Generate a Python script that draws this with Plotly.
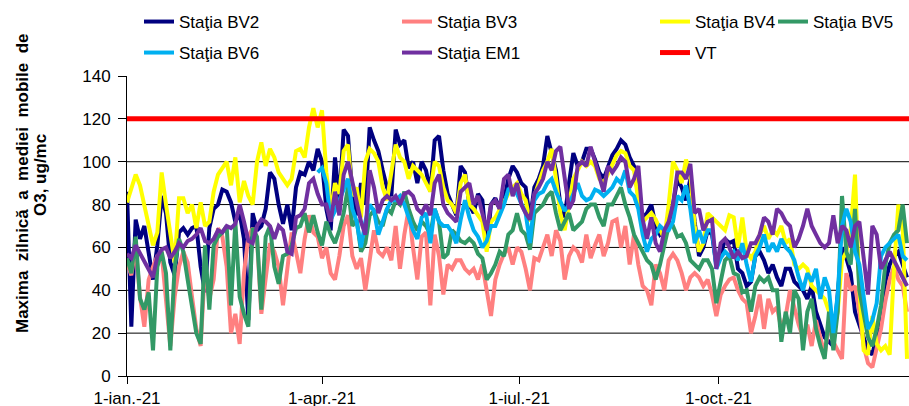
import pandas as pd
import plotly.graph_objects as go

# ---------------- data ----------------
START = "2021-01-01"          # first sample of the station series
STEP = "2D"                   # one sample every two days
BV6_START = "2021-03-30"      # station BV6 starts later

BV2 = [86, 23, 73, 64, 70, 56, 45, 61, 84, 76, 53, 47, 67, 69, 66, 69, 70, 51, 39, 69, 78, 80, 87, 86, 81, 72, 76, 64, 26, 76, 68, 70, 78, 95, 92, 80, 71, 80, 68, 88, 95, 94, 100, 96, 106, 100,
       78, 68, 102, 82, 115, 112, 85, 75, 90, 80, 116, 110, 105, 96, 88, 84, 115, 108, 110, 97, 100, 90, 100, 96, 86, 110, 112, 96, 85, 80, 75, 98, 95, 80, 76, 85, 82, 60, 80, 83, 78, 82, 92, 98, 95,
       90, 88, 73, 88, 92, 98, 112, 104, 96, 80, 74, 90, 104, 98, 100, 106, 106, 101, 95, 92, 97, 103, 106, 110, 108, 102, 98, 84, 74, 76, 80, 70, 66, 68, 72, 80, 92, 88, 82, 92, 72, 56, 60, 68,
       66, 52, 56, 64, 62, 63, 50, 48, 42, 44, 56, 58, 54, 48, 52, 46, 42, 50, 50, 44, 42, 40, 36, 42, 30, 24, 18, 16, 14, 38, 60, 55, 48, 30, 24, 18, 12, 10, 20, 28, 44, 52, 56, 58, 52, 46]

BV3 = [53, 47, 60, 37, 23, 45, 51, 56, 57, 33, 14, 37, 51, 58, 53, 37, 22, 14, 51, 36, 45, 69, 65, 51, 20, 29, 15, 48, 65, 69, 64, 29, 47, 62, 58, 51, 33, 51, 67, 58, 48, 64, 75, 67, 65, 55,
       60, 48, 45, 56, 70, 75, 56, 50, 55, 40, 55, 68, 58, 56, 60, 54, 70, 50, 66, 78, 60, 45, 65, 67, 33, 66, 56, 38, 52, 50, 54, 54, 50, 48, 50, 45, 52, 40, 28, 45, 52, 57, 60, 52, 60,
       58, 50, 40, 55, 54, 60, 66, 56, 68, 63, 45, 56, 60, 58, 53, 66, 55, 61, 66, 56, 62, 72, 73, 60, 70, 52, 66, 52, 42, 40, 33, 52, 48, 40, 54, 57, 54, 48, 40, 46, 48, 46, 42, 45,
       38, 28, 38, 42, 45, 46, 40, 36, 34, 20, 28, 38, 22, 36, 30, 32, 22, 28, 40, 32, 24, 18, 24, 14, 26, 18, 10, 24, 16, 12, 8, 48, 40, 42, 30, 14, 6, 4, 14, 22, 35, 45, 51, 45, 42, 30]

BV4 = [81, 87, 94, 89, 80, 70, 61, 67, 95, 80, 65, 53, 83, 83, 76, 80, 69, 81, 70, 72, 86, 94, 97, 100, 89, 102, 81, 91, 84, 80, 100, 109, 98, 106, 102, 95, 92, 89, 92, 105, 106, 102, 116, 125, 116, 124,
       95, 77, 90, 85, 105, 108, 84, 88, 74, 100, 106, 104, 100, 88, 82, 95, 108, 102, 100, 92, 98, 96, 94, 90, 86, 100, 98, 88, 82, 80, 76, 90, 94, 80, 78, 75, 72, 58, 72, 74, 78, 82, 85, 88, 90,
       85, 82, 72, 84, 90, 96, 100, 106, 92, 76, 68, 80, 92, 96, 100, 98, 100, 98, 92, 90, 94, 98, 103, 105, 104, 98, 96, 82, 72, 74, 76, 73, 68, 64, 80, 100, 96, 90, 101, 94, 70, 58, 62, 76,
       74, 72, 70, 68, 75, 74, 60, 74, 58, 55, 58, 66, 70, 64, 68, 66, 70, 62, 64, 52, 50, 52, 50, 42, 40, 38, 36, 30, 20, 30, 54, 58, 68, 94, 40, 12, 10, 28, 15, 12, 14, 10, 50, 80, 70, 8]

BV5 = [55, 48, 65, 36, 31, 39, 12, 51, 58, 48, 12, 51, 64, 58, 45, 31, 20, 15, 61, 31, 61, 65, 67, 70, 33, 72, 37, 29, 23, 69, 65, 31, 65, 70, 51, 43, 56, 57, 61, 69, 70, 76, 67, 75, 67, 61,
       72, 66, 62, 68, 76, 88, 70, 73, 58, 62, 75, 77, 72, 70, 78, 76, 82, 80, 86, 78, 72, 68, 72, 70, 66, 78, 72, 55, 57, 68, 66, 63, 62, 64, 62, 57, 55, 45, 48, 52, 58, 56, 66, 68, 76,
       68, 66, 59, 76, 78, 80, 84, 86, 76, 68, 72, 76, 68, 70, 72, 78, 80, 80, 74, 70, 80, 80, 84, 88, 80, 74, 66, 62, 58, 54, 52, 45, 52, 62, 70, 70, 65, 66, 62, 54, 52, 50, 54, 54,
       50, 34, 44, 54, 56, 48, 47, 39, 40, 30, 42, 46, 44, 46, 40, 40, 16, 30, 20, 40, 36, 12, 30, 36, 22, 14, 8, 30, 12, 30, 84, 58, 52, 78, 40, 30, 18, 14, 22, 33, 52, 62, 66, 68, 80, 62]

BV6 = [95, 97,
       90, 73, 77, 82, 88, 92, 78, 72, 60, 72, 80, 77, 66, 72, 78, 82, 82, 84, 80, 74, 68, 64, 74, 76, 62, 78, 72, 70, 70, 67, 62, 73, 82, 74, 68, 65, 60, 63, 70, 70, 75, 80, 87, 87, 85,
       80, 76, 62, 82, 85, 86, 90, 92, 86, 82, 77, 80, 85, 90, 84, 82, 83, 87, 86, 84, 86, 88, 92, 90, 96, 86, 84, 78, 66, 58, 64, 66, 70, 68, 68, 72, 84, 82, 89, 78, 62, 68, 62, 68,
       68, 50, 55, 58, 56, 58, 54, 62, 52, 44, 56, 60, 66, 58, 62, 58, 64, 60, 58, 54, 46, 40, 48, 44, 50, 36, 46, 40, 20, 38, 70, 78, 72, 58, 52, 36, 22, 26, 34, 56, 60, 62, 64, 66, 56, 54]

EM1 = [57, 55, 61, 57, 54, 49, 46, 56, 59, 60, 55, 58, 62, 60, 63, 64, 66, 69, 63, 62, 64, 68, 67, 70, 69, 71, 80, 72, 63, 62, 70, 73, 72, 70, 64, 70, 68, 58, 57, 74, 75, 78, 90, 92, 85, 80,
       80, 72, 86, 75, 94, 100, 90, 80, 72, 66, 96, 88, 76, 82, 84, 82, 84, 80, 85, 86, 84, 78, 76, 80, 75, 90, 94, 80, 76, 74, 72, 86, 88, 90, 80, 84, 76, 68, 80, 82, 78, 92, 94, 84, 90,
       80, 76, 73, 85, 88, 92, 100, 96, 105, 107, 92, 78, 82, 98, 100, 98, 107, 100, 92, 86, 98, 95, 98, 102, 100, 88, 92, 98, 73, 64, 74, 62, 58, 68, 72, 80, 95, 95, 92, 99, 76, 78, 68, 72,
       73, 50, 62, 64, 60, 55, 58, 55, 56, 62, 62, 66, 74, 72, 66, 78, 76, 72, 70, 60, 64, 70, 78, 70, 66, 62, 60, 62, 75, 62, 70, 68, 60, 70, 72, 55, 38, 70, 66, 50, 54, 58, 54, 50, 46, 42]

VT_DATES = ["2021-01-01", "2021-12-31"]
VT = [120, 120]

Y_TICKS = [0, 20, 40, 60, 80, 100, 120, 140]
GRID_LEVELS = [20, 40, 60, 80, 100, 120]
X_TICKS = ["2021-01-01", "2021-04-01", "2021-07-01", "2021-10-01"]
X_TICK_LABELS = ["1-ian.-21", "1-apr.-21", "1-iul.-21", "1-oct.-21"]
X_RANGE = ["2021-01-01", "2021-12-27 22:00"]

NAMES = ["Staţia BV2", "Staţia BV3", "Staţia BV4", "Staţia BV5", "Staţia BV6", "Staţia EM1", "VT"]
TITLE_LINE1 = "Maxima  zilnică  a  mediei  mobile  de"
TITLE_LINE2 = "O3, ug/mc"

# ---------------- figure ----------------
FONT = "Liberation Sans, Arial, sans-serif"
dates = pd.date_range(START, periods=len(BV2), freq=STEP)
dates_bv6 = pd.date_range(BV6_START, periods=len(BV6), freq=STEP)

series = [
    (NAMES[0], dates, BV2, "#000080", "legend"),
    (NAMES[1], dates, BV3, "#FF8080", "legend"),
    (NAMES[2], dates, BV4, "#FFFF00", "legend"),
    (NAMES[3], dates, BV5, "#339966", "legend3"),
    (NAMES[4], dates_bv6, BV6, "#00B0F0", "legend2"),
    (NAMES[5], dates, EM1, "#7030A0", "legend2"),
    (NAMES[6], pd.to_datetime(VT_DATES), VT, "#FF0000", "legend2"),
]

fig = go.Figure()
for name, x, y, color, leg in series:
    fig.add_trace(go.Scatter(
        x=x, y=y, name=name, mode="lines",
        line=dict(color=color, width=5 if name == "VT" else 4),
        legend=leg,
    ))

for v in GRID_LEVELS:
    fig.add_hline(y=v, line=dict(color="#000000", width=1), layer="below")

leg_common = dict(
    orientation="h", xref="container", yref="container",
    xanchor="left", yanchor="middle",
    entrywidth=213, entrywidthmode="pixels",
    font=dict(family=FONT, size=17, color="#000000"),
    bgcolor="rgba(0,0,0,0)", borderwidth=0, traceorder="normal",
)
ROW1_Y = 1 - 22 / 406
ROW2_Y = 1 - 53 / 406
COL1_X = 139 / 909
COL4_X = 773 / 909

fig.update_layout(
    width=909, height=406,
    margin=dict(l=127, r=0, t=76, b=30, autoexpand=False),
    paper_bgcolor="white", plot_bgcolor="white",
    font=dict(family=FONT, size=17, color="#000000"),
    showlegend=True,
    legend=dict(leg_common, x=COL1_X, y=ROW1_Y),
    legend2=dict(leg_common, x=COL1_X, y=ROW2_Y),
    legend3=dict(leg_common, x=COL4_X, y=ROW1_Y),
    xaxis=dict(
        type="date", range=X_RANGE, automargin=False,
        tickmode="array", tickvals=X_TICKS, ticktext=X_TICK_LABELS,
        ticks="outside", ticklen=7, tickwidth=1, tickcolor="#000000",
        showline=True, linecolor="#000000", linewidth=1,
        showgrid=False, zeroline=False,
        tickfont=dict(family=FONT, size=17, color="#000000"),
    ),
    yaxis=dict(
        range=[0, 140], tickmode="array", tickvals=Y_TICKS, automargin=False,
        ticks="outside", ticklen=8, tickwidth=1, tickcolor="#000000",
        showline=True, linecolor="#000000", linewidth=1,
        showgrid=False, zeroline=False,
        tickfont=dict(family=FONT, size=17, color="#000000"),
        ticklabelstandoff=4,
    ),
    annotations=[
        dict(text="<b>" + TITLE_LINE1 + "</b>", textangle=-90, showarrow=False,
             xref="paper", yref="paper", x=(22 - 127) / 782, y=(376 - 183) / 300,
             xanchor="center", yanchor="middle",
             font=dict(family=FONT, size=17, color="#000000")),
        dict(text="<b>" + TITLE_LINE2 + "</b>", textangle=-90, showarrow=False,
             xref="paper", yref="paper", x=(40 - 127) / 782, y=(376 - 175) / 300,
             xanchor="center", yanchor="middle",
             font=dict(family=FONT, size=17, color="#000000")),
    ],
)

# remove the browser's default page margin so the figure sits at the window's corner
fig.write_html(
    "out.html",
    config={"displayModeBar": False},
    post_script="document.body.style.margin='0';document.body.style.overflow='hidden';",
)
